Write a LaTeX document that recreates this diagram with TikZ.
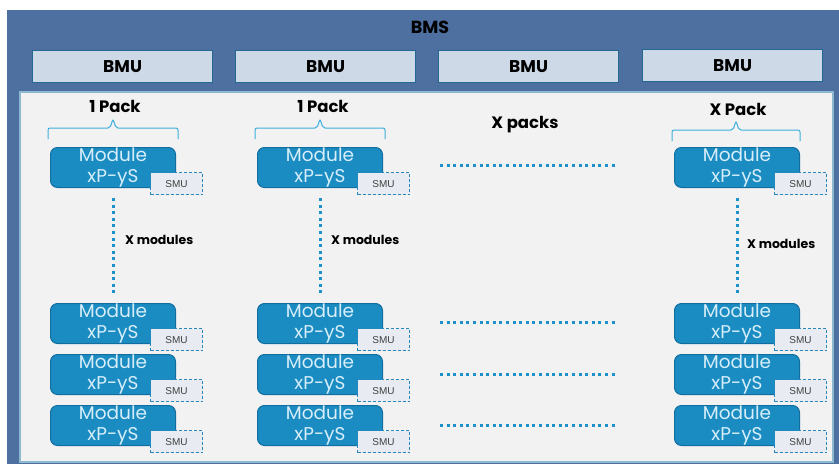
\documentclass[tikz,border=0pt]{standalone}
\usepackage{fontspec}
\setmainfont{Poppins}
\newfontfamily\smufont{Liberation Sans}
\definecolor{bmsblue}{RGB}{78,112,160}
\definecolor{bmufill}{RGB}{205,217,231}
\definecolor{bmuedge}{RGB}{36,105,145}
\definecolor{panelfill}{RGB}{242,242,242}
\definecolor{paneledge}{RGB}{140,185,205}
\definecolor{modfill}{RGB}{26,140,194}
\definecolor{modedge}{RGB}{18,110,160}
\definecolor{modtext}{RGB}{215,238,250}
\definecolor{smufill}{RGB}{232,236,242}
\definecolor{smuedge}{RGB}{40,135,190}
\definecolor{dotblue}{RGB}{30,145,205}
\definecolor{bracecol}{RGB}{60,175,220}
\begin{document}
\begin{tikzpicture}[x=1pt,y=-1pt,
  bmubox/.style={draw=bmuedge,line width=1.2pt,fill=bmufill,minimum width=180pt,minimum height=32pt,anchor=north west,inner sep=0pt,font=\bfseries\fontsize{17}{19}\selectfont},
  modbox/.style={draw=modedge,line width=1pt,fill=modfill,rounded corners=7pt,minimum width=125pt,minimum height=40pt,anchor=north west,inner sep=0pt,text=modtext,align=center,font=\fontsize{18.5}{21}\selectfont},
  smubox/.style={draw=smuedge,dashed,dash pattern=on 3pt off 2pt,line width=1.2pt,fill=smufill,minimum width=52pt,minimum height=22pt,anchor=north west,inner sep=0pt,font=\smufont\fontsize{10}{11}\selectfont,text=black!75},
  dotline/.style={draw=dotblue,line width=3pt,dash pattern=on 3pt off 3.6pt},
  bracepath/.style={draw=bracecol,line width=1pt,rounded corners=2pt},
  lbl/.style={font=\bfseries\fontsize{16.5}{18}\selectfont,inner sep=0pt},
  slbl/.style={font=\bfseries\fontsize{12.5}{14}\selectfont,inner sep=0pt,anchor=west}
]
\useasboundingbox (0,0) rectangle (839,464);
\fill[white] (0,0) rectangle (839,464);
\fill[bmsblue] (7,10) rectangle (839,464);
\draw[paneledge,line width=1.5pt,fill=panelfill] (20,92) rectangle (833,462);
\node[lbl,text=black,font=\bfseries\fontsize{17.5}{19}\selectfont] (bms) at (430,27) {BMS};
\node[bmubox] (bmu1) at (32,50) {BMU};
\node[bmubox] (bmu2) at (235,50) {BMU};
\node[bmubox] (bmu3) at (438,50) {BMU};
\node[bmubox] (bmu4) at (642,49) {BMU};
% pack labels and braces
\node[lbl] (p1) at (115,106) {1 Pack};
\node[lbl] (p2) at (323,106) {1 Pack};
\node[lbl] (p4) at (738,109) {X Pack};
\node[lbl] (xp) at (525,125) {X packs};
\draw[bracepath] (48,139) |- (110,128) -- (113,119) -- (116,128) -| (178,139);
\draw[bracepath] (255,139) |- (317,128) -- (320,119) -- (323,128) -| (385,139);
\draw[bracepath] (672,141) |- (733,130) -- (736,121) -- (739,130) -| (800,141);
% modules
\foreach \c/\x in {1/50,2/257,4/674}{
  \foreach \r/\y in {t/147,a/303,b/354,c/405}{
    \node[modbox] (m\c\r) at (\x,\y) {Module\\xP-yS};
    \node[smubox] (s\c\r) at (\x+100,\y+25) {SMU};
  }
}
% vertical dotted lines
\foreach \c in {1,2,4}{
  \draw[dotline,shorten <=10pt,shorten >=10pt] (m\c t.south) -- (m\c a.north);
}
\node[slbl] (xm1) at (125,240) {X modules};
\node[slbl] (xm2) at (331,240) {X modules};
\node[slbl] (xm4) at (747,244) {X modules};
% horizontal dotted lines
\foreach \n/\y in {1/165,2/322,3/374,4/425}{
  \coordinate (hs\n) at (440,\y);
  \coordinate (he\n) at (616,\y);
  \draw[dotline] (hs\n) -- (he\n);
}
\end{tikzpicture}
\end{document}
